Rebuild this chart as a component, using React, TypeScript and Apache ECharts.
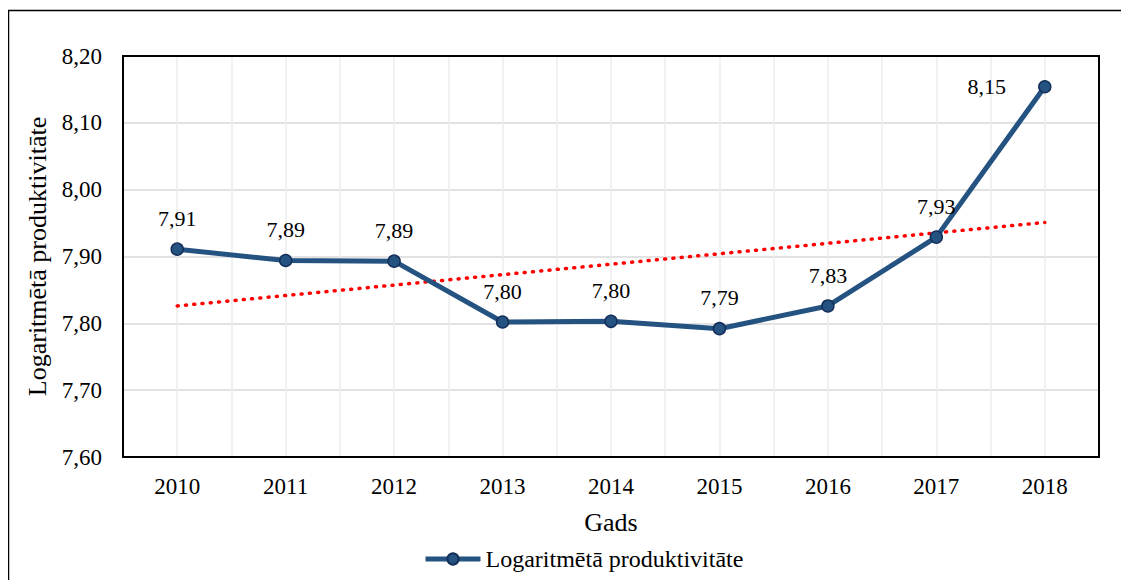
import React, { useEffect, useRef } from "react";
import * as echarts from "echarts";

const years = ["2010", "2011", "2012", "2013", "2014", "2015", "2016", "2017", "2018"];
const productivity = [7.911, 7.894, 7.893, 7.802, 7.803, 7.792, 7.826, 7.929, 8.154];
const trend = [7.826, "-", "-", "-", "-", "-", "-", "-", 7.951];
const seriesName = "Logaritmētā produktivitāte";

const FONT = "Liberation Serif";
const fmt = (v: number) => v.toFixed(2).replace(".", ",");
const border = { show: true, onZero: false, lineStyle: { color: "#000", width: 2 } };

export default function App() {
  const ref = useRef<HTMLDivElement>(null);
  useEffect(() => {
    if (!ref.current) return;
    const chart = echarts.init(ref.current, undefined, { renderer: "svg" });
    const lastIdx = productivity.length - 1;
    chart.setOption({
      animation: false,
      textStyle: { fontFamily: FONT, color: "#000" },
      graphic: [
        {
          type: "rect",
          shape: { x: 8.5, y: 10.5, width: 1140, height: 600 },
          style: { fill: "none", stroke: "#000", lineWidth: 1.5 },
          silent: true,
          z: -10,
        },
      ],
      grid: {
        left: 123,
        right: 30,
        top: 56,
        bottom: 131,
        show: false,
      },
      legend: {
        left: 418,
        top: 542,
        data: [seriesName],
        itemWidth: 55,
        itemHeight: 14,
        lineStyle: { width: 5 },
        textStyle: { fontFamily: FONT, fontSize: 24, color: "#000" },
      },
      xAxis: [
        {
          type: "category",
          data: years,
          boundaryGap: true,
          axisLine: border,
          axisTick: { show: false },
          axisLabel: { fontFamily: FONT, fontSize: 23, color: "#000", margin: 18 },
          splitLine: { show: false },
          name: "Gads",
          nameLocation: "middle",
          nameGap: 52,
          nameTextStyle: { fontFamily: FONT, fontSize: 26, color: "#000" },
        },
        {
          type: "value",
          min: 0,
          max: years.length,
          interval: 0.5,
          show: true,
          position: "top",
          axisLine: border,
          axisTick: { show: false },
          axisLabel: { show: false },
          splitLine: {
            show: true,
            showMinLine: false,
            showMaxLine: false,
            lineStyle: { color: "#ececec", width: 1.5 },
          },
        },
      ],
      yAxis: [
        {
          type: "value",
          min: 7.6,
          max: 8.2,
          interval: 0.1,
          axisLine: border,
          axisTick: { show: false },
          axisLabel: {
            fontFamily: FONT,
            fontSize: 23,
            color: "#000",
            margin: 21,
            formatter: (v: number) => fmt(v),
          },
          splitLine: {
            show: true,
            showMinLine: false,
            showMaxLine: false,
            lineStyle: { color: "#d9d9d9", width: 1.5 },
          },
          name: seriesName,
          nameLocation: "middle",
          nameGap: 68,
          nameTextStyle: { fontFamily: FONT, fontSize: 26, color: "#000" },
        },
        {
          type: "value",
          min: 7.6,
          max: 8.2,
          interval: 0.1,
          position: "right",
          axisLine: border,
          axisTick: { show: false },
          axisLabel: { show: false },
          splitLine: { show: false },
        },
      ],
      series: [
        {
          name: "trend",
          type: "line",
          xAxisIndex: 0,
          yAxisIndex: 0,
          data: trend,
          connectNulls: true,
          symbol: "none",
          lineStyle: { color: "#ff0000", width: 3.5, type: [1, 7.3], cap: "round" },
          z: 3,
          silent: true,
        },
        {
          name: seriesName,
          type: "line",
          xAxisIndex: 0,
          yAxisIndex: 0,
          data: productivity.map((v, i) =>
            i === lastIdx
              ? { value: v, label: { position: "left", distance: 32 } }
              : { value: v }
          ),
          symbol: "circle",
          symbolSize: 12,
          lineStyle: { color: "#255381", width: 5 },
          itemStyle: { color: "#255381", borderColor: "#142f5a", borderWidth: 1.5 },
          label: {
            show: true,
            position: "top",
            distance: 13,
            fontFamily: FONT,
            fontSize: 22,
            color: "#000",
            formatter: (p: any) => fmt(p.value),
          },
          z: 4,
        },
      ],
    });
    return () => chart.dispose();
  }, []);
  return <div ref={ref} style={{ width: 1129, height: 588, margin: -8 }} />;
}
